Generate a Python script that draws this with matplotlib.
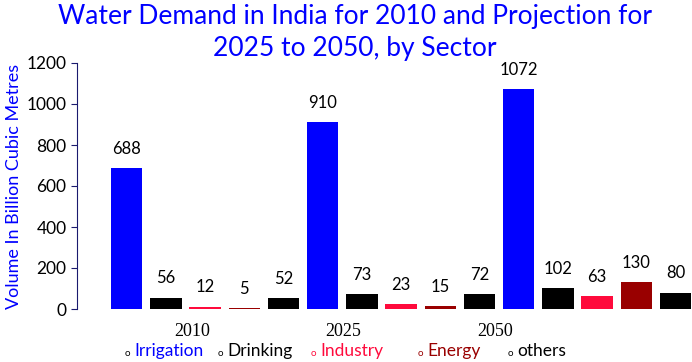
import numpy as np
import matplotlib.pyplot as plt

years = ["2010", "2025", "2050"]
sectors = ["Irrigation", "Drinking", "Industry", "Energy", "others"]
sector_colors = ["#0000FF", "#000000", "#FF0A3C", "#990000", "#000000"]
marker_colors = ["#000000", "#000000", "#FF0A3C", "#990000", "#000000"]
values_2010 = [688, 56, 12, 5, 52]
values_2025 = [910, 73, 23, 15, 72]
values_2050 = [1072, 102, 63, 130, 80]
yticks = [0, 200, 400, 600, 800, 1000, 1200]

plt.rcParams["font.family"] = ["Lato", "DejaVu Sans"]

fig = plt.figure(figsize=(6.92, 3.62), dpi=100)
ax = fig.add_axes([77 / 692, 1 - 309 / 362, 615 / 692, 246 / 362])

all_vals = [values_2010, values_2025, values_2050]
n = len(sectors)
for g, vals in enumerate(all_vals):
    x = g * n + np.arange(n)
    bars = ax.bar(x, vals, width=0.8, color=sector_colors)
    for b, v in zip(bars, vals):
        ax.annotate(str(v), (b.get_x() + b.get_width() / 2, v),
                    xytext=(0, 8), textcoords="offset points",
                    ha="center", va="bottom", fontsize=12)

ax.set_xlim(-1.27, 14.42)
ax.set_ylim(0, 1200)
ax.set_yticks(yticks)
ax.set_xticks([])
ax.tick_params(axis="y", labelsize=12.5, length=4, color="#1a1a6e")
for s in ["top", "right", "bottom"]:
    ax.spines[s].set_visible(False)
ax.spines["left"].set_color("#1a1a6e")
ax.set_ylabel("Volume In Billion Cubic Metres", color="#0000FF", fontsize=13, labelpad=3)

fig.text(0.513, 0.99, "Water Demand in India for 2010 and Projection for\n2025 to 2050, by Sector",
         ha="center", va="top", color="#0000FF", fontsize=19, linespacing=1.35)

# group labels (serif, offset as in the original)
for yr, xp in zip(years, [192, 343, 495]):
    fig.text(xp / 692, 1 - 332 / 362, yr, ha="center", va="center",
             family="Liberation Serif", fontsize=13)

# legend row
for name, c, mc, xp in zip(sectors, sector_colors, marker_colors, [127, 220, 313, 420, 510]):
    fig.text(xp / 692, 1 - 354 / 362, "o", ha="center", va="center", color=mc, fontsize=7)
    fig.text((xp + 7) / 692, 1 - 351 / 362, name, ha="left", va="center", color=c, fontsize=12.5)

fig.savefig("out.png", dpi=100)
